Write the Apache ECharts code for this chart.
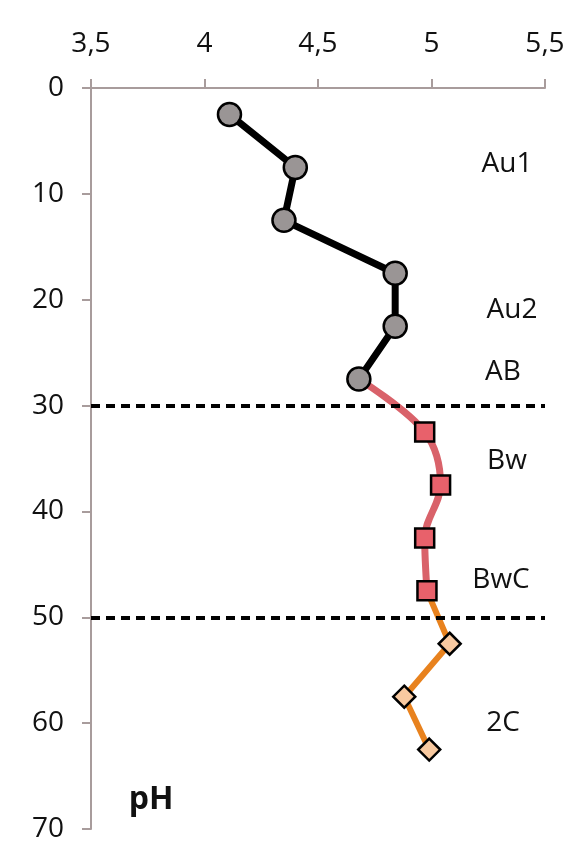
<!DOCTYPE html>
<html>
<head>
<meta charset="utf-8">
<script src="https://cdn.jsdelivr.net/npm/echarts@6/dist/echarts.min.js"></script>
<style>
  html, body { margin: 0; padding: 0; background: #fff; }
  #chart { width: 578px; height: 854px; }
</style>
</head>
<body>
<div id="chart"></div>
<script>
// pH profile with depth (cm); points sit at the middle of each 5 cm sample
const phTicks = [3.5, 4, 4.5, 5, 5.5];
const depthTicks = [0, 10, 20, 30, 40, 50, 60, 70];

// Upper horizons (Au1, Au2, AB)
const upperDepth = [2.5, 7.5, 12.5, 17.5, 22.5, 27.5];
const upperPh = [4.11, 4.40, 4.35, 4.84, 4.84, 4.68];

// Bw / BwC horizons
const middleDepth = [32.5, 37.5, 42.5, 47.5];
const middlePh = [4.97, 5.04, 4.97, 4.98];

// 2C horizon
const lowerDepth = [52.5, 57.5, 62.5];
const lowerPh = [5.08, 4.88, 4.99];

// Horizon boundaries drawn as dashed lines
const boundaries = [30, 50];

// Horizon names
const horizons = ['Au1', 'Au2', 'AB', 'Bw', 'BwC', '2C'];

const FONT = '"Open Sans", "DejaVu Sans", sans-serif';

function pairs(xs, ys) {
  return xs.map((x, i) => [x, ys[i]]);
}

// Each lower segment starts from the last point of the segment above it
const upperData = pairs(upperPh, upperDepth);
const middleData = [{ value: [upperPh[upperPh.length - 1], upperDepth[upperDepth.length - 1]], symbol: 'none' }]
  .concat(pairs(middlePh, middleDepth));
const lowerData = [{ value: [middlePh[middlePh.length - 1], middleDepth[middleDepth.length - 1]], symbol: 'none' }]
  .concat(pairs(lowerPh, lowerDepth));

const axisColor = '#a89c9c';

const chart = echarts.init(document.getElementById('chart'), null, { renderer: 'canvas' });

// Horizon label placement (pixels)
const horizonPos = [[507, 164], [512, 310], [503, 372], [507, 461], [501, 580], [503, 723]];

chart.setOption({
  backgroundColor: '#ffffff',
  animation: false,
  grid: { left: 91, right: 33, top: 88, bottom: 25, containLabel: false },
  xAxis: {
    type: 'value',
    position: 'top',
    min: phTicks[0],
    max: phTicks[phTicks.length - 1],
    interval: 0.5,
    axisLine: { show: true, lineStyle: { color: axisColor, width: 2 } },
    axisTick: { show: true, length: 9, lineStyle: { color: axisColor, width: 2 } },
    splitLine: { show: false },
    axisLabel: {
      margin: 30,
      color: '#111',
      fontSize: 28,
      fontFamily: FONT,
      formatter: v => String(v).replace('.', ',')
    }
  },
  yAxis: {
    type: 'value',
    inverse: true,
    min: depthTicks[0],
    max: depthTicks[depthTicks.length - 1],
    interval: 10,
    axisLine: { show: true, lineStyle: { color: axisColor, width: 2 } },
    axisTick: { show: true, length: 9, lineStyle: { color: axisColor, width: 2 } },
    splitLine: { show: false },
    axisLabel: {
      margin: 27,
      color: '#111',
      fontSize: 28,
      fontFamily: FONT
    }
  },
  series: [
    {
      name: 'boundaries',
      type: 'line',
      data: [],
      silent: true,
      markLine: {
        silent: true,
        symbol: 'none',
        label: { show: false },
        lineStyle: { color: '#000', type: [9, 6], width: 4 },
        data: boundaries.map(d => ({ yAxis: d }))
      },
      z: 1
    },
    {
      name: 'lower',
      type: 'line',
      data: lowerData,
      smooth: false,
      lineStyle: { color: '#e8821e', width: 6 },
      symbol: 'diamond',
      symbolSize: 22,
      itemStyle: { color: '#f8c9a0', borderColor: '#000', borderWidth: 2.5 },
      z: 3
    },
    {
      name: 'middle',
      type: 'line',
      data: middleData,
      smooth: 0.35,
      lineStyle: { color: '#d9626a', width: 7 },
      symbol: 'rect',
      symbolSize: 19,
      itemStyle: { color: '#e8616b', borderColor: '#000', borderWidth: 2.5 },
      z: 4
    },
    {
      name: 'upper',
      type: 'line',
      data: upperData,
      smooth: false,
      lineStyle: { color: '#000', width: 7 },
      symbol: 'circle',
      symbolSize: 23,
      itemStyle: { color: '#9a9595', borderColor: '#000', borderWidth: 2.5 },
      z: 5
    }
  ],
  graphic: horizons.map((name, i) => ({
    type: 'text',
    x: horizonPos[i][0],
    y: horizonPos[i][1],
    style: {
      text: name,
      font: '28px ' + FONT,
      fill: '#111',
      align: 'center',
      verticalAlign: 'middle'
    }
  })).concat([{
    type: 'text',
    x: 151,
    y: 800,
    style: {
      text: 'pH',
      font: 'bold 32px ' + FONT,
      fill: '#111',
      align: 'center',
      verticalAlign: 'middle'
    }
  }])
});
</script>
</body>
</html>
